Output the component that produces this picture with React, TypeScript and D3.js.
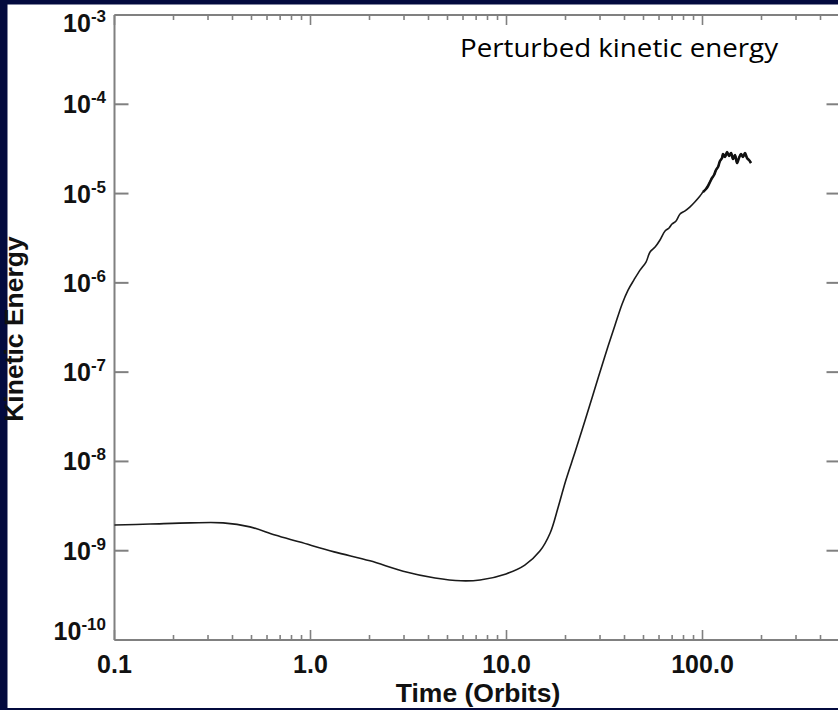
import React from "react";
import * as d3 from "d3";

// ---- data ----
const timeOrbits = [
  0.1, 0.152, 0.243, 0.358, 0.491, 0.659, 0.883, 1.32, 2.01, 2.97, 4.32, 5.86, 7.33, 9.94,
  12.4, 14.8, 16.7, 18.3, 20.1, 22.4, 25.2, 28.3, 31.8, 35.8, 38.9, 41.7, 44.7, 48.0, 51.5,
  54.0, 57.3, 60.7, 64.4, 67.5, 69.9, 73.3, 76.8, 81.5, 86.4, 91.6, 97.1, 100.6, 104.2, 106.7,
  109.2, 111.8, 114.5, 117.2, 120.0, 122.8, 125.8, 127.3, 130.3, 133.4, 136.6, 139.8, 143.1,
  146.5, 150.0, 153.5, 157.2, 160.9, 164.7, 168.7, 172.7, 176.7,
];
const kineticEnergy = [
  1.94e-9, 1.99e-9, 2.05e-9, 2.05e-9, 1.85e-9, 1.5e-9, 1.25e-9, 9.7e-10, 7.7e-10, 5.9e-10,
  4.95e-10, 4.6e-10, 4.7e-10, 5.5e-10, 6.9e-10, 9.9e-10, 1.58e-9, 3.01e-9, 6.2e-9, 1.28e-8,
  2.91e-8, 6.65e-8, 1.52e-7, 3.37e-7, 5.8e-7, 8.3e-7, 1.08e-6, 1.39e-6, 1.71e-6, 2.22e-6,
  2.52e-6, 3.02e-6, 3.81e-6, 4.12e-6, 4.56e-6, 4.93e-6, 5.9e-6, 6.4e-6, 7.1e-6, 8.1e-6,
  9.4e-6, 1.04e-5, 1.125e-5, 1.216e-5, 1.348e-5, 1.494e-5, 1.614e-5, 1.837e-5, 1.985e-5,
  2.317e-5, 2.503e-5, 2.775e-5, 2.568e-5, 2.922e-5, 2.636e-5, 2.848e-5, 2.44e-5, 2.704e-5,
  2.2e-5, 2.503e-5, 2.775e-5, 2.568e-5, 2.848e-5, 2.503e-5, 2.377e-5, 2.2e-5,
];
const yTickExponents = [-3, -4, -5, -6, -7, -8, -9, -10];
const xMajorTicks = [0.1, 1, 10, 100];
const xTickLabels = ["0.1", "1.0", "10.0", "100.0"];
const xDomain = [0.1, 500];
const yDomain = [1e-10, 1e-3];
const xTitle = "Time (Orbits)";
const yTitle = "Kinetic Energy";
const annotation = "Perturbed kinetic energy";

const W = 838;
const H = 710;
const LEFT = 114.5;
const RIGHT = 839.5;
const TOP = 15;
const BOTTOM = 640;
const AXIS = "#808080";
const FONT = "'Liberation Sans', Arial, Helvetica, sans-serif";

export default function App() {
  const x = d3.scaleLog().domain(xDomain).range([LEFT, RIGHT]);
  const y = d3.scaleLog().domain(yDomain).range([BOTTOM, TOP]);

  const line = d3
    .line<number>()
    .x((i) => x(timeOrbits[i]))
    .y((i) => y(kineticEnergy[i]))
    .curve(d3.curveCatmullRom.alpha(0.5));
  const idx = timeOrbits.map((_, i) => i);
  const path = line(idx) || "";
  const noisyPath = line(idx.filter((i) => timeOrbits[i] >= 100)) || "";

  const allTicks = x.ticks();
  const minorTicks = allTicks.filter(
    (t) => !xMajorTicks.some((m) => Math.abs(m - t) / m < 1e-6) && t < xDomain[1]
  );

  return (
    <svg
      width={W}
      height={H}
      style={{ position: "fixed", left: 0, top: 0, display: "block" }}
    >
      <rect x={0} y={0} width={W} height={H} fill="#030a3e" />
      <rect x={7.5} y={4.5} width={W - 7.5} height={708 - 4.5} fill="#ffffff" />

      {/* axes frame */}
      <g stroke={AXIS} strokeWidth={2} fill="none">
        <line x1={LEFT} x2={LEFT} y1={TOP} y2={BOTTOM} />
        <line x1={LEFT} x2={RIGHT} y1={TOP} y2={TOP} />
        <line x1={LEFT} x2={RIGHT} y1={BOTTOM} y2={BOTTOM} />
        <line x1={RIGHT} x2={RIGHT} y1={TOP} y2={BOTTOM} />
      </g>

      {/* x ticks */}
      <g stroke={AXIS} strokeWidth={1.6}>
        {xMajorTicks.map((t) => (
          <g key={"xm" + t}>
            <line x1={x(t)} x2={x(t)} y1={BOTTOM} y2={BOTTOM - 10} />
            <line x1={x(t)} x2={x(t)} y1={TOP} y2={TOP + 10} />
          </g>
        ))}
        {minorTicks.map((t) => (
          <g key={"xn" + t}>
            <line x1={x(t)} x2={x(t)} y1={BOTTOM} y2={BOTTOM - 5} />
            <line x1={x(t)} x2={x(t)} y1={TOP} y2={TOP + 5} />
          </g>
        ))}
      </g>

      {/* y ticks */}
      <g stroke={AXIS} strokeWidth={2}>
        {yTickExponents.map((e) => (
          <g key={"y" + e}>
            <line x1={LEFT} x2={LEFT + 14} y1={y(Math.pow(10, e))} y2={y(Math.pow(10, e))} />
            <line x1={RIGHT} x2={RIGHT - 13} y1={y(Math.pow(10, e))} y2={y(Math.pow(10, e))} />
          </g>
        ))}
      </g>

      {/* x tick labels */}
      <g fontFamily={FONT} fontWeight="bold" fontSize={25} fill="#111" textAnchor="middle">
        {xMajorTicks.map((t, i) => (
          <text key={"xl" + t} x={x(t)} y={673}>
            {xTickLabels[i]}
          </text>
        ))}
      </g>

      {/* y tick labels */}
      <g fontFamily={FONT} fontWeight="bold" fill="#111" textAnchor="end">
        {yTickExponents.map((e) => {
          const ty = y(Math.pow(10, e));
          const base = Math.min(640, Math.max(32, ty + 9));
          return (
            <text key={"yl" + e} x={106} y={base} fontSize={25}>
              <tspan>10</tspan>
              <tspan dy={-10} fontSize={17}>
                {String(e)}
              </tspan>
            </text>
          );
        })}
      </g>

      {/* axis titles */}
      <text
        x={478}
        y={702}
        textAnchor="middle"
        fontFamily={FONT}
        fontWeight="bold"
        fontSize={26.5}
        fill="#111"
      >
        {xTitle}
      </text>
      <text
        transform={`translate(23,329) rotate(-90)`}
        textAnchor="middle"
        fontFamily={FONT}
        fontWeight="bold"
        fontSize={26.5}
        fill="#111"
      >
        {yTitle}
      </text>

      {/* annotation */}
      <text
        x={460}
        y={57}
        fontFamily="'Open Sans', 'Noto Sans', sans-serif"
        fontSize={26}
        fill="#000"
        textLength={318}
        lengthAdjust="spacingAndGlyphs"
      >
        {annotation}
      </text>

      {/* curve */}
      <path d={path} fill="none" stroke="#1a1a1a" strokeWidth={1.6} strokeLinejoin="round" />
      <path d={noisyPath} fill="none" stroke="#111" strokeWidth={2.6} strokeLinejoin="round" />
    </svg>
  );
}
